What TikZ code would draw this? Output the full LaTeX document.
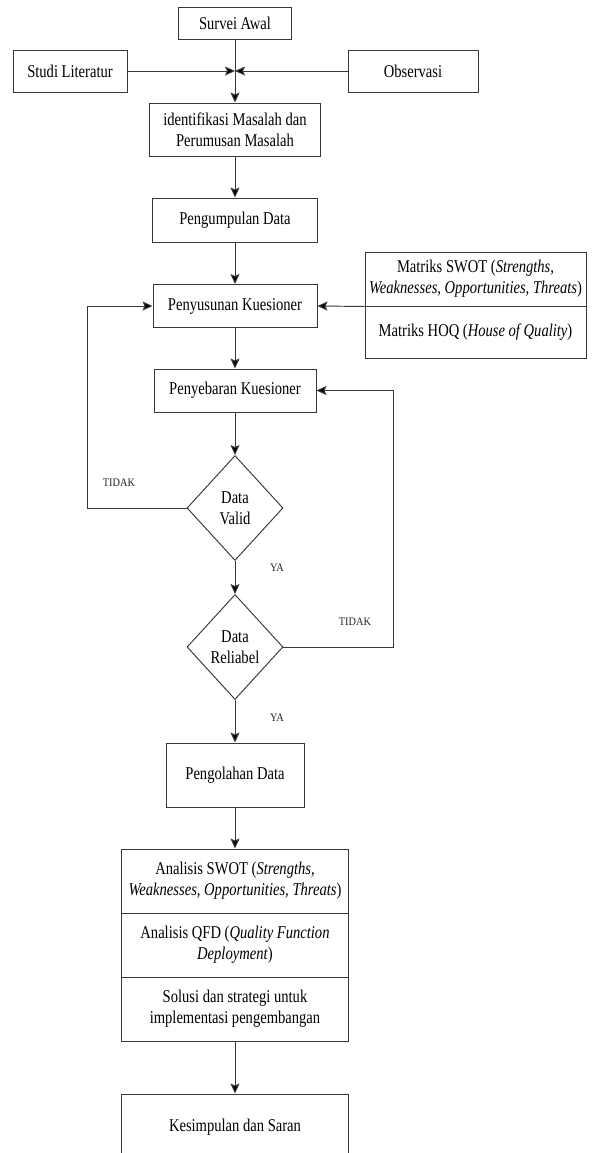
\documentclass[tikz,border=0pt]{standalone}
\usepackage{fontspec}
\setmainfont{Liberation Serif}[FakeStretch=0.81]
\newfontfamily\lblfont{Liberation Serif}[FakeStretch=0.9]
\usetikzlibrary{arrows.meta,shapes.geometric}
\tikzset{
  box/.style={draw=black!78, line width=0.95pt, inner sep=0pt, align=center,
    font=\fontsize{18}{21}\selectfont, text=black},
  dia/.style={box, diamond},
  conn/.style={draw=black!78, line width=0.95pt, -{Stealth[length=10pt,width=9pt,inset=2pt,fill=black]}},
  lbl/.style={inner sep=0pt, font=\lblfont\fontsize{11.5}{13}\selectfont, text=black!85},
}
\begin{document}
\begin{tikzpicture}[x=1pt,y=-1pt]
\useasboundingbox (0,0) rectangle (593,1153);
\fill[white] (0,0) rectangle (593,1153);
\clip (0,0) rectangle (593,1153);

\node[box, minimum width=113pt, minimum height=32pt] (surv) at (235,23) {Survei Awal};
\node[box, minimum width=114pt, minimum height=42pt] (studi) at (70,71) {Studi Literatur};
\node[box, minimum width=130pt, minimum height=42pt] (obs) at (413,71) {Observasi};
\coordinate (J) at (235,71);
\node[box, minimum width=171pt, minimum height=53pt] (ident) at (235,129.5) {identifikasi Masalah dan\\Perumusan Masalah};
\node[box, minimum width=165pt, minimum height=44pt] (kumpul) at (235,220) {Pengumpulan Data};
\node[box, minimum width=164pt, minimum height=43pt] (susun) at (235,306) {Penyusunan Kuesioner};
\node[box, minimum width=221pt, minimum height=54pt] (mat1) at (475.5,279) {Matriks SWOT (\textit{Strengths,}\\\textit{Weaknesses, Opportunities, Threats})};
\node[box, minimum width=221pt, minimum height=52pt] (mat2) at (475.5,332) {Matriks HOQ (\textit{House of Quality})};
\node[box, minimum width=162pt, minimum height=43pt] (sebar) at (235,390.5) {Penyebaran Kuesioner};
\node[dia, minimum width=96pt, minimum height=105pt] (valid) at (235,508) {Data\\Valid};
\node[dia, minimum width=96pt, minimum height=105pt] (rel) at (235,647) {Data\\Reliabel};
\node[box, minimum width=138pt, minimum height=64pt] (olah) at (235,775) {Pengolahan Data};
\node[box, minimum width=227pt, minimum height=64pt] (an1) at (235,881) {Analisis SWOT (\textit{Strengths,}\\\textit{Weaknesses, Opportunities, Threats})};
\node[box, minimum width=227pt, minimum height=64pt] (an2) at (235,945) {Analisis QFD (\textit{Quality Function}\\\textit{Deployment})};
\node[box, minimum width=227pt, minimum height=64pt] (an3) at (235,1009) {Solusi dan strategi untuk\\implementasi pengembangan};
\node[box, minimum width=227pt, minimum height=66pt] (kes) at (235,1127) {Kesimpulan dan Saran};

\node[lbl] (t1) at (119,483) {TIDAK};
\node[lbl] (y1) at (277,568) {YA};
\node[lbl] (t2) at (355,622) {TIDAK};
\node[lbl] (y2) at (277,718) {YA};

\coordinate (L) at (87,508);
\coordinate (R) at (393,647);

\draw[conn] (studi.east) -- (J);
\draw[conn] (obs.west) -- (J);
\draw[conn] (surv.south) -- (ident.north);
\draw[conn] (ident.south) -- (kumpul.north);
\draw[conn] (kumpul.south) -- (susun.north);
\draw[conn] (mat1.south west) -- (susun.east);
\draw[conn] (susun.south) -- (sebar.north);
\draw[conn] (sebar.south) -- (valid.north);
\draw[conn] (valid.south) -- (rel.north);
\draw[conn] (rel.south) -- (olah.north);
\draw[conn] (olah.south) -- (an1.north);
\draw[conn] (an3.south) -- (kes.north);
\draw[conn] (valid.west) -- (L) |- (susun.west);
\draw[conn] (rel.east) -- (R) |- (sebar.east);
\end{tikzpicture}
\end{document}
